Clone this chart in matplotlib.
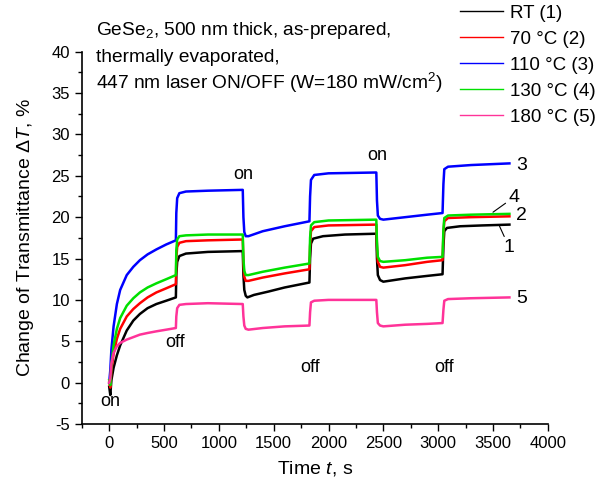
import matplotlib
matplotlib.use("Agg")
import matplotlib.pyplot as plt
from matplotlib.ticker import MultipleLocator

plt.rcParams['font.family'] = ['Liberation Sans', 'DejaVu Sans']
plt.rcParams['mathtext.fontset'] = 'custom'
plt.rcParams['mathtext.rm'] = 'Liberation Sans'
plt.rcParams['mathtext.it'] = 'Liberation Sans:italic'
plt.rcParams['axes.unicode_minus'] = False

# time points (s) and transmittance change (%)
t_rt = [0, 10, 20, 40, 70, 100, 160, 220, 280, 350, 430, 520, 608,
        612, 620, 640, 700, 900, 1218,
        1224, 1232, 1245, 1260, 1320, 1450, 1600, 1826,
        1832, 1840, 1860, 1950, 2150, 2436,
        2442, 2450, 2470, 2500, 2700, 2900, 3040,
        3048, 3056, 3080, 3200, 3400, 3650]
y_rt = [-0.5, -1.5, 0.3, 1.8, 3.3, 4.5, 6.3, 7.5, 8.3, 9.0, 9.5, 9.9, 10.3,
        13.0, 14.6, 15.3, 15.6, 15.8, 15.9,
        13.0, 11.2, 10.5, 10.3, 10.6, 11.0, 11.5, 12.1,
        15.0, 16.8, 17.4, 17.7, 17.9, 18.0,
        15.0, 13.0, 12.4, 12.2, 12.6, 12.9, 13.1,
        16.5, 18.3, 18.7, 18.9, 19.0, 19.1]

t_70 = [0, 10, 20, 40, 70, 100, 160, 220, 280, 350, 430, 520, 608,
        612, 620, 640, 700, 900, 1218,
        1224, 1232, 1245, 1270, 1400, 1600, 1826,
        1832, 1840, 1870, 2000, 2436,
        2442, 2450, 2470, 2500, 2700, 2900, 3040,
        3048, 3056, 3090, 3300, 3650]
y_70 = [0.0, -0.6, 1.5, 3.5, 5.3, 6.5, 8.0, 8.9, 9.6, 10.3, 10.9, 11.4, 11.9,
        15.0, 16.4, 16.9, 17.1, 17.2, 17.3,
        14.5, 12.8, 12.3, 12.3, 12.7, 13.2, 13.7,
        16.5, 18.3, 18.8, 19.0, 19.1,
        16.5, 14.6, 14.0, 13.9, 14.2, 14.6, 14.8,
        18.0, 19.5, 19.9, 20.0, 20.1]

t_110 = [0, 10, 20, 40, 70, 100, 160, 220, 280, 350, 430, 520, 608,
         612, 620, 640, 700, 900, 1218,
         1224, 1232, 1245, 1270, 1400, 1600, 1826,
         1832, 1840, 1870, 2000, 2436,
         2442, 2450, 2470, 2500, 2700, 2900, 3040,
         3048, 3056, 3090, 3300, 3650]
y_110 = [0.0, 1.5, 4.0, 6.8, 9.5, 11.2, 13.0, 14.0, 14.8, 15.5, 16.1, 16.7, 17.2,
         20.5, 22.3, 22.9, 23.1, 23.2, 23.3,
         20.0, 18.2, 17.7, 17.7, 18.3, 18.9, 19.5,
         22.5, 24.5, 25.1, 25.3, 25.4,
         22.0, 20.2, 19.8, 19.7, 20.0, 20.3, 20.5,
         24.0, 25.8, 26.1, 26.3, 26.5]

t_130 = t_70
y_130 = [0.3, -0.3, 2.2, 4.5, 6.5, 7.8, 9.3, 10.2, 10.9, 11.5, 12.0, 12.5, 13.0,
         16.0, 17.3, 17.7, 17.8, 17.9, 17.9,
         15.0, 13.5, 13.0, 13.0, 13.4, 13.9, 14.4,
         17.5, 19.0, 19.4, 19.6, 19.7,
         17.0, 15.2, 14.7, 14.6, 14.8, 15.1, 15.2,
         18.5, 19.9, 20.2, 20.3, 20.4]

t_180 = t_70
y_180 = [0.0, 0.5, 2.3, 3.6, 4.4, 4.8, 5.2, 5.5, 5.8, 6.0, 6.2, 6.4, 6.6,
         8.0, 9.0, 9.4, 9.5, 9.6, 9.5,
         8.0, 6.9, 6.5, 6.4, 6.6, 6.8, 6.9,
         8.5, 9.7, 9.9, 10.0, 10.0,
         8.5, 7.2, 6.9, 6.8, 7.0, 7.1, 7.2,
         8.8, 9.9, 10.1, 10.2, 10.3]

labels = ['RT (1)', '70 °C (2)', '110 °C (3)', '130 °C (4)', '180 °C (5)']
colors = ['#000000', '#ff0000', '#0000ff', '#00e000', '#ff3399']

fig = plt.figure(figsize=(5.97, 4.86), dpi=100)
ax = fig.add_axes([0.137, 0.1276, 0.7806, 0.766])

series = [(t_rt, y_rt), (t_70, y_70), (t_110, y_110), (t_130, y_130), (t_180, y_180)]
handles = []
for (t, y), c, lab in zip(series, colors, labels):
    ax.plot(t, y, color=c, lw=1.8)
    h, = ax.plot([], [], color=c, lw=1.0, label=lab)
    handles.append(h)

ax.set_xlim(-250, 4000)
ax.set_ylim(-5, 40)
ax.xaxis.set_major_locator(MultipleLocator(500))
ax.xaxis.set_minor_locator(MultipleLocator(250))
ax.yaxis.set_major_locator(MultipleLocator(5))
ax.yaxis.set_minor_locator(MultipleLocator(2.5))
ax.tick_params(which='major', direction='out', length=5, width=1, labelsize=12)
ax.tick_params(which='minor', direction='out', length=3, width=1)
for s in ['top', 'right']:
    ax.spines[s].set_visible(False)
for s in ['left', 'bottom']:
    ax.spines[s].set_linewidth(1.2)

ax.set_xlabel('Time $\\mathit{t}$, s', fontsize=14, labelpad=6)
ax.set_ylabel('Change of Transmittance $\\mathit{\\Delta T}$, %', fontsize=14, labelpad=11)

# on/off marks
for x, y, s in [(5, -2.3, 'on'), (600, 4.8, 'off'), (1220, 25.1, 'on'),
                (1829, 1.8, 'off'), (2440, 27.4, 'on'), (3050, 1.8, 'off')]:
    ax.text(x, y, s, ha='center', va='center', fontsize=13)

# curve numbers
ax.text(3710, 26.3, '3', ha='left', va='center', fontsize=14)
ax.text(3710, 20.2, '2', ha='left', va='center', fontsize=14)
ax.text(3710, 10.2, '5', ha='left', va='center', fontsize=14)
ax.annotate('4', xy=(3500, 20.6), xytext=(3640, 22.4), ha='left', va='center',
            fontsize=14, arrowprops=dict(arrowstyle='-', lw=0.8, color='k', shrinkA=0, shrinkB=0))
ax.annotate('1', xy=(3560, 18.9), xytext=(3600, 16.3), ha='left', va='center',
            fontsize=14, arrowprops=dict(arrowstyle='-', lw=0.8, color='k', shrinkA=0, shrinkB=0))

fig.text(0.161, 1 - 30 / 486, 'GeSe$_2$, 500 nm thick, as-prepared,', fontsize=13.8, va='center')
fig.text(0.161, 1 - 57 / 486, 'thermally evaporated,', fontsize=13.8, va='center')
fig.text(0.161, 1 - 83 / 486, '447 nm laser ON/OFF (W=180 mW/cm$^2$)', fontsize=13.8, va='center')

fig.legend(handles=handles, loc='upper left', bbox_to_anchor=(0.770, 0.990),
           frameon=False, fontsize=13.5, handlelength=2.3, handletextpad=0.4,
           labelspacing=0.47, borderpad=0, borderaxespad=0)

fig.savefig('out.png', dpi=100)
